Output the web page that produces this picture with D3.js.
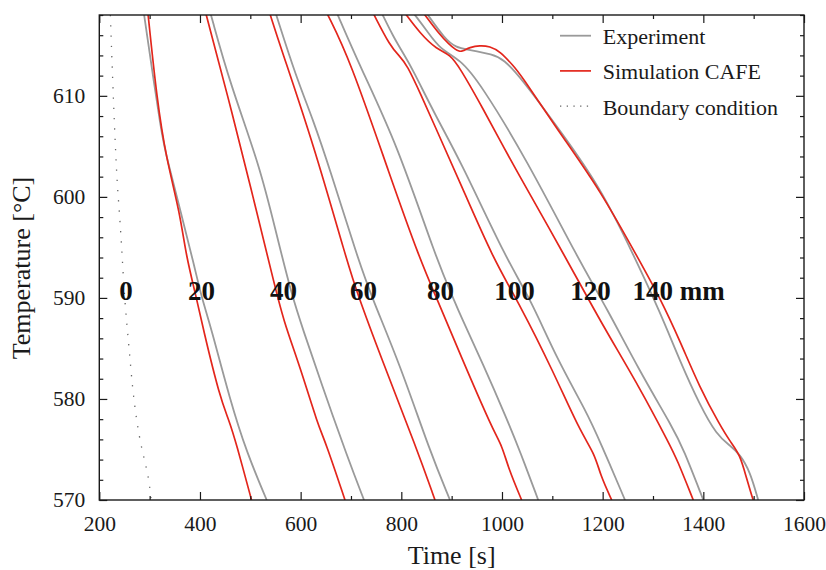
<!DOCTYPE html>
<html>
<head>
<meta charset="utf-8">
<script src="https://cdn.jsdelivr.net/npm/d3@7"></script>
<style>
  body { margin: 0; background: #fff; }
  svg text { font-family: "Liberation Serif", "Times New Roman", serif; }
</style>
</head>
<body>
<svg id="chart" width="826" height="570"></svg>
<script>
// measured temperature curves, [time s, temperature °C]
const exp20 = [[288.8,618.1],[325.2,605.6],[333.9,604],[362.3,598.4],[388.1,593.3],[403.4,590],[421.3,587.2],[459.7,579.9],[492.8,574.7],[532.6,570]];
const exp40 = [[421.3,618.1],[459.7,611.2],[519.3,603],[551,596.5],[583.8,590],[605.3,586.8],[638.5,581.9],[694.7,574],[725.9,570]];
const exp60 = [[551,618.1],[590.8,611.9],[625.1,607.6],[658.3,602.7],[713,594],[741.8,590],[797.4,583.4],[857,574.8],[896.7,570]];
const exp80 = [[672,618.2],[718,612.9],[791,605.3],[870,593.8],[903,590],[917,588.3],[963,583.4],[1009,578.1],[1036,574.8],[1072,570]];
const exp100 = [[761,618.2],[784.1,615.85],[803.9,614.2],[821.2,612.75],[870.3,607.8],[916.7,603.65],[1009.4,593.75],[1055.6,590],[1108.7,584],[1168.3,578.7],[1194.7,575.8],[1244.4,570]];
const exp120 = [[824,618.2],[850,616.5],[877,614.6],[917,613.6],[956,611.3],[1049,603.7],[1152,593.8],[1208,589],[1274,582.7],[1340,577.1],[1360,575.1],[1400,570]];
const exp140 = [[850,618.2],[887,615.6],[909,614.8],[929,614.6],[983,614.1],[1003,613.6],[1036,611.9],[1115,606.6],[1195,601],[1261,594.3],[1314,588.6],[1354,583.7],[1393,579.4],[1427,576.4],[1453,575.4],[1473,574.5],[1493,572.8],[1509,570]];

// simulated curves (CAFE)
const sim20 = [[296.8,618.1],[314.6,609.6],[332.5,603.9],[360.3,598.4],[372.2,594.2],[393.1,590],[406,587],[439.8,580.1],[457.7,577.9],[471.6,575.7],[502.4,570]];
const sim40 = [[412,618.1],[466.2,607.9],[505.4,600],[545.7,591.8],[565.5,587.8],[598.7,583.2],[635.1,577.3],[648.4,575.9],[688.1,570]];
const sim60 = [[539.1,618.1],[559,615],[625.1,605.3],[691.5,593.75],[711.4,590.6],[757.7,584.35],[830.6,575.1],[866.9,570]];
const sim80 = [[652,618.2],[698,613.6],[778,602],[837,593.8],[870,590],[917,584.4],[983,576.8],[1000,575.4],[1013,573.1],[1039,570]];
const sim100 = [[744,618.2],[778,614.9],[797,613.9],[811,613.1],[840,610],[864,607.3],[917,601.4],[983,593.8],[1036,589.3],[1102,582.7],[1155,576.8],[1185,574.5],[1195,572.5],[1218,570]];
const sim120 = [[807,618.2],[837,616.2],[870,614.6],[897,614.1],[917,612.7],[956,609.3],[996,605.6],[1022,603.2],[1129,593.8],[1195,587.7],[1274,581.1],[1334,575.4],[1347,574.1],[1380,570]];
const sim140 = [[844,618.2],[877,616],[895,615.1],[907,614.6],[915,614.4],[921,614.4],[936,614.8],[956,615],[976,614.9],[996,614.4],[1022,613],[1036,612.2],[1115,606.3],[1195,600.7],[1274,593.6],[1314,590],[1354,585.7],[1393,581.1],[1433,577.4],[1453,575.8],[1473,574.5],[1486,572.1],[1499,570]];

// boundary condition (surface, 0 mm)
const boundary = [[222,618],[226,612.2],[231,606],[235,601.8],[238,599.7],[242.5,596.6],[245,594.5],[251,589.3],[259,585.2],[266,581],[274,577.9],[282,575.6],[291,573.7],[297,572.4],[301,571],[303,570]];

// position labels
const labelText = ["0", "20", "40", "60", "80", "100", "120", "140 mm"];
const labelTime = [253, 403, 566, 725, 878, 1025, 1176, 1351];
const labelTemp = 590;

const xMajor = [200, 400, 600, 800, 1000, 1200, 1400, 1600];
const yMajor = [570, 580, 590, 600, 610];
const legendNames = ["Experiment", "Simulation CAFE", "Boundary condition"];

const expCurves = [exp20, exp40, exp60, exp80, exp100, exp120, exp140];
const simCurves = [sim20, sim40, sim60, sim80, sim100, sim120, sim140];

const RED = "#e3261c", GRAY = "#9a9a9a", INK = "#1a1a1a";

const svg = d3.select("#chart");
const m = { left: 99.3, right: 804, top: 15, bottom: 500 };

const x = d3.scaleLinear().domain([200, 1600]).range([m.left, m.right]);
const y = d3.scaleLinear().domain([570, 618]).range([m.bottom, m.top]);

svg.append("defs").append("clipPath").attr("id", "plotclip")
    .append("rect")
    .attr("x", m.left).attr("y", m.top)
    .attr("width", m.right - m.left).attr("height", m.bottom - m.top);

const line = d3.line()
    .x(d => x(d[0]))
    .y(d => y(d[1]))
    .curve(d3.curveBasis);

const plot = svg.append("g").attr("clip-path", "url(#plotclip)");

plot.append("path")
    .datum(boundary)
    .attr("d", line)
    .attr("fill", "none")
    .attr("stroke", "#666")
    .attr("stroke-width", 1.3)
    .attr("stroke-dasharray", "1.3 9");

plot.selectAll(".exp")
    .data(expCurves)
    .join("path")
    .attr("class", "exp")
    .attr("d", line)
    .attr("fill", "none")
    .attr("stroke", GRAY)
    .attr("stroke-width", 1.8);

plot.selectAll(".sim")
    .data(simCurves)
    .join("path")
    .attr("class", "sim")
    .attr("d", line)
    .attr("fill", "none")
    .attr("stroke", RED)
    .attr("stroke-width", 1.7);

// axes, ticks inward on all four sides
const xMinor = d3.range(300, 1600, 200);
const yMinor = d3.range(572, 618.5, 2).filter(v => v % 10 !== 0);
const fmt = d3.format("d");

svg.append("g").attr("transform", `translate(0,${m.bottom})`)
    .call(d3.axisBottom(x).tickValues(xMajor).tickFormat(fmt).tickSize(-8).tickPadding(16).tickSizeOuter(0));
svg.append("g").attr("transform", `translate(0,${m.bottom})`)
    .call(d3.axisBottom(x).tickValues(xMinor).tickSize(-4).tickFormat("").tickSizeOuter(0));
svg.append("g").attr("transform", `translate(0,${m.top})`)
    .call(d3.axisTop(x).tickValues(xMajor).tickSize(-8).tickFormat("").tickSizeOuter(0));
svg.append("g").attr("transform", `translate(0,${m.top})`)
    .call(d3.axisTop(x).tickValues(xMinor).tickSize(-4).tickFormat("").tickSizeOuter(0));
svg.append("g").attr("transform", `translate(${m.left},0)`)
    .call(d3.axisLeft(y).tickValues(yMajor).tickFormat(fmt).tickSize(-8).tickPadding(14).tickSizeOuter(0));
svg.append("g").attr("transform", `translate(${m.left},0)`)
    .call(d3.axisLeft(y).tickValues(yMinor).tickSize(-4).tickFormat("").tickSizeOuter(0));
svg.append("g").attr("transform", `translate(${m.right},0)`)
    .call(d3.axisRight(y).tickValues(yMajor).tickSize(-8).tickFormat("").tickSizeOuter(0));
svg.append("g").attr("transform", `translate(${m.right},0)`)
    .call(d3.axisRight(y).tickValues(yMinor).tickSize(-4).tickFormat("").tickSizeOuter(0));

svg.selectAll(".domain").remove();
svg.selectAll(".tick line").attr("stroke", INK).attr("stroke-width", 1.2);
svg.selectAll(".tick text")
    .attr("fill", INK)
    .attr("font-size", "21.5px")
    .style("font-family", '"Liberation Serif", "Times New Roman", serif');

svg.append("rect")
    .attr("x", m.left).attr("y", m.top)
    .attr("width", m.right - m.left).attr("height", m.bottom - m.top)
    .attr("fill", "none")
    .attr("stroke", INK)
    .attr("stroke-width", 1.4);

// axis titles
svg.append("text")
    .attr("x", (m.left + m.right) / 2)
    .attr("y", 564)
    .attr("text-anchor", "middle")
    .attr("font-size", "26px")
    .attr("fill", INK)
    .text("Time [s]");

svg.append("text")
    .attr("transform", "translate(30,268) rotate(-90)")
    .attr("text-anchor", "middle")
    .attr("font-size", "26px")
    .attr("fill", INK)
    .text("Temperature [°C]");

// position labels
svg.selectAll(".poslabel")
    .data(labelText)
    .join("text")
    .attr("class", "poslabel")
    .attr("x", (d, i) => x(labelTime[i]))
    .attr("y", y(labelTemp) + 2)
    .attr("text-anchor", "middle")
    .attr("font-size", "27px")
    .attr("font-weight", "bold")
    .attr("fill", "#111")
    .text(d => d);

// legend
const legend = svg.append("g");
const legendStyles = [
    { stroke: GRAY, width: 1.8, dash: null },
    { stroke: RED, width: 1.7, dash: null },
    { stroke: "#666", width: 1.3, dash: "1.3 5.4" }
];
legendNames.forEach((name, i) => {
    const ly = 35.7 + i * 35.2;
    legend.append("line")
        .attr("x1", 560).attr("x2", 591)
        .attr("y1", ly).attr("y2", ly)
        .attr("stroke", legendStyles[i].stroke)
        .attr("stroke-width", legendStyles[i].width)
        .attr("stroke-dasharray", legendStyles[i].dash);
    legend.append("text")
        .attr("x", 602.7)
        .attr("y", ly + 8.5)
        .attr("font-size", "22px")
        .attr("fill", INK)
        .text(name);
});
</script>
</body>
</html>
